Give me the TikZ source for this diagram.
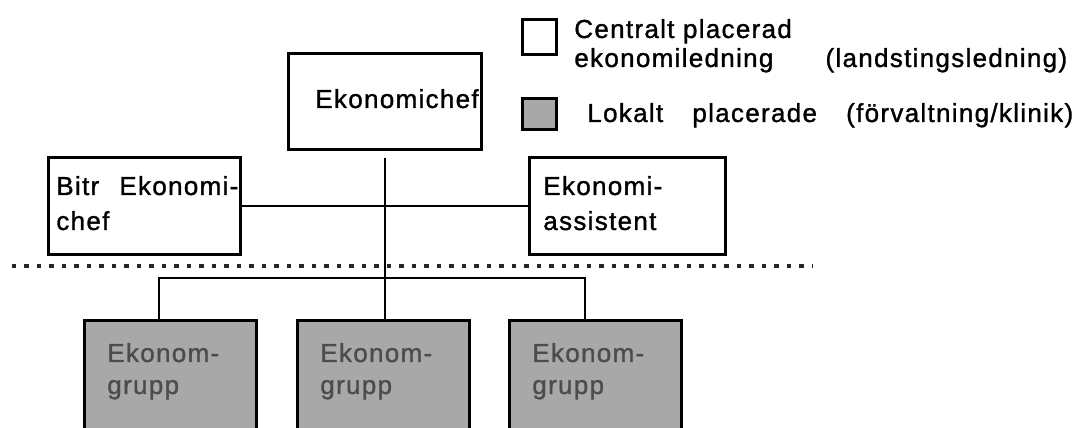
\documentclass[tikz,border=0pt]{standalone}
\usepackage{fontspec}
\setmainfont{Liberation Sans}[LetterSpace=5, FakeBold=1.2]
\usepackage{xcolor}
\definecolor{grpfill}{gray}{0.66}
\definecolor{grptext}{gray}{0.3}
\tikzset{box/.style={draw, line width=1.5pt, inner sep=0, anchor=north west, minimum height=1.94cm},
 grp/.style={box, fill=grpfill, minimum width=3.44cm, minimum height=2.8cm},
 txt/.style={anchor=base west, inner sep=0, font=\fontsize{14.8pt}{18pt}\selectfont},
 link/.style={draw, line width=1.3pt},
 sep/.style={draw=black!85, line width=2pt, dash pattern=on .09cm off .16cm},
 }

\begin{document}
\begin{tikzpicture}[x=0.02cm, y=-0.02cm]
        \useasboundingbox (0,0) rectangle (1083,428);
        \node[box, minimum width=3.86cm, minimum height=1.92cm] (chef) at (287,52) {};
        \node[box, minimum width=3.84cm] (bitr) at (47,156) {};
        \node[box, minimum width=3.92cm] (assist) at (528,156) {};
        \node[txt] (chef-a) at (315,108) {Ekonomichef};
        \node[txt] (bitr-a) at (56,195) {\makebox[3.64cm][s]{Bitr Ekonomi-}};
        \node[txt] (bitr-b) at (56,230) {chef};
        \node[txt] (assist-a) at (543,195) {Ekonomi-};
        \node[txt] (assist-b) at (543,230) {assistent};

        \foreach \x[count=\i] in {83, 296, 508} {
            \node[grp] (g\i) at (\x,319) {};
            \node[txt, text=grptext] (g\i-a) at (\x+24,362) {Ekonom-};
            \node[txt, text=grptext] (g\i-b) at (\x+24,394) {grupp};
        }

        \node[box, minimum width=.68cm, minimum height=.7cm] (key-c) at (521,18) {};
        \node[box, fill=grpfill, minimum width=.68cm, minimum height=.62cm] (key-l) at (521,97) {};
        \node[txt] (key-c1) at (574,38) {Centralt placerad};
        \node[txt] (key-c2) at (574,67) {\makebox[9.86cm][s]{ekonomiledning (landstingsledning)}};
        \node[txt] (key-l1) at (587,122) {\makebox[9.72cm][s]{Lokalt placerade (förvaltning/klinik)}};

        \coordinate (forkrow) at (0,278);
        \draw[link, shorten <=.14cm] (chef.south) -- (chef.south |- g2.north);
        \draw[link] (bitr.east) -- (assist.west);
        \draw[link] ([xshift=-.22cm]g1.north) |- (chef.south |- forkrow) -| ([xshift=-.21cm]g3.north);
        \draw[sep] (12,266) -- (813,266);
    \end{tikzpicture}
\end{document}
